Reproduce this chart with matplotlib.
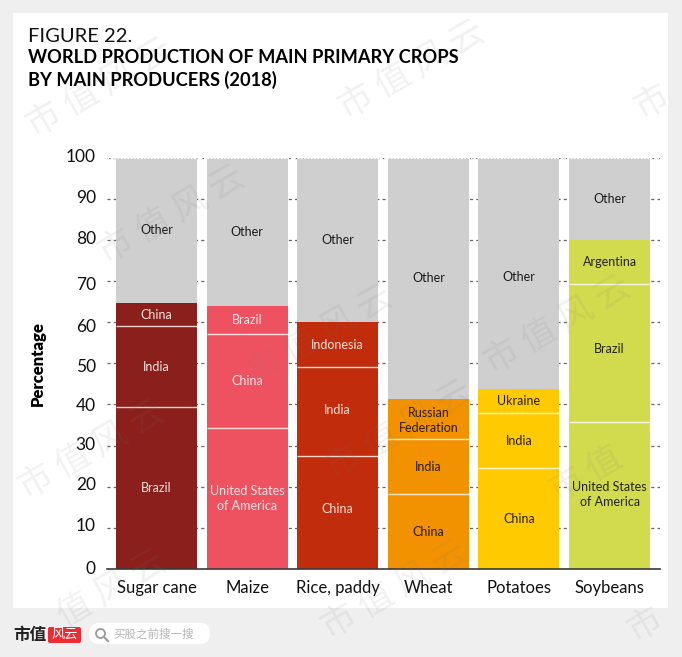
import matplotlib
matplotlib.use('Agg')
import matplotlib.pyplot as plt
from matplotlib.patches import Rectangle, FancyBboxPatch, Circle
from matplotlib.transforms import ScaledTranslation
import numpy as np

plt.rcParams['font.family'] = ['Lato', 'Noto Sans CJK SC', 'DejaVu Sans']

W, H = 682, 657

crops = ['Sugar cane', 'Maize', 'Rice, paddy', 'Wheat', 'Potatoes', 'Soybeans']
# segment heights bottom to top, the rest up to 100 is "Other"
shares = [
    [39.4, 19.6, 5.6],
    [34.3, 22.7, 7.0],
    [27.5, 21.5, 11.0],
    [18.2, 13.4, 9.7],
    [24.5, 13.4, 5.8],
    [35.7, 33.6, 10.7],
]
producers = [
    ['Brazil', 'India', 'China'],
    ['United States\nof America', 'China', 'Brazil'],
    ['China', 'India', 'Indonesia'],
    ['China', 'India', 'Russian\nFederation'],
    ['China', 'India', 'Ukraine'],
    ['United States\nof America', 'Brazil', 'Argentina'],
]
bar_colors = ['#8a1f1c', '#ee5261', '#c02c0c', '#f39200', '#ffcb00', '#d2da4e']
text_colors = ['#f6e4e0', '#fbe6e6', '#f9e2da', '#2a1a08', '#2a2006', '#23240a']
other_color = '#cfcfcf'
y_ticks = list(range(0, 101, 10))

# the labels in the original are not all dead centre, pixels up (+) / down (-)
label_shift = {(2, 0): 3, (2, 1): 2, (5, 1): 4, (5, 0): 1, (3, 2): -1}
other_shift = {4: -4}
# the y tick labels wander a bit too, pixels down, from 0 to 100
tick_shift = [-2, -3, -3, -2, 0, 2, 3, 3, -2, -2, -2]

# watermark pieces, cut short where the original runs off the picture
watermarks = [
    (100, 88, '市 值 风 云'), (172, 215, '市 值 风 云'), (412, 70, '市 值 风 云'),
    (320, 335, '市 值 风 云'), (558, 325, '市 值 风 云'), (92, 450, '市 值 风 云'),
    (400, 430, '市 值 风 云'), (586, 475, '市 值'), (395, 590, '市 值 风 云'),
    (112, 590, '值 风 云'), (652, 102, '市'), (645, 625, '市'),
]


def px_rect(x0, y0, x1, y1):
    return [x0 / W, 1 - y1 / H, (x1 - x0) / W, (y1 - y0) / H]


fig = plt.figure(figsize=(W / 100, H / 100), dpi=100, facecolor='#efefef')

# background layer in pixel coords
bg = fig.add_axes([0, 0, 1, 1], zorder=0)
bg.set_xlim(0, W)
bg.set_ylim(H, 0)
bg.axis('off')
bg.add_patch(Rectangle((13, 13), 655, 595, fc='white', ec='none'))

bg.text(28, 36, 'FIGURE 22.', fontsize=14.5, va='center', ha='left', color='#111111')
bg.text(28, 57.5, 'WORLD PRODUCTION OF MAIN PRIMARY CROPS', fontsize=13.15,
        fontweight='bold', va='center', ha='left', color='black')
bg.text(28, 80, 'BY MAIN PRODUCERS (2018)', fontsize=13.15,
        fontweight='bold', va='center', ha='left', color='black')

# chart
ax = fig.add_axes(px_rect(107, 157.5, 660, 569), zorder=1)
ax.patch.set_alpha(0)
x = np.arange(len(crops))
bar_w = 0.894
ax.set_xlim(-0.546, 5.556)
ax.set_ylim(0, 100)

for t in y_ticks[1:]:
    ax.axhline(t, color='#666666', lw=0.9, dashes=(2.5, 2.5), zorder=1)

for i, crop in enumerate(crops):
    bottom = 0
    for j, val in enumerate(shares[i]):
        ax.bar(x[i], val, bar_w, bottom=bottom, color=bar_colors[i], zorder=2)
        ax.annotate(producers[i][j], (x[i], bottom + val / 2), xytext=(0, label_shift.get((i, j), 0)),
                    textcoords='offset pixels', ha='center', va='center', fontsize=9,
                    linespacing=1.3, color=text_colors[i], zorder=4)
        bottom += val
        if j < 2:
            ax.plot([x[i] - bar_w / 2, x[i] + bar_w / 2], [bottom, bottom],
                    color='white', lw=1, alpha=0.8, solid_capstyle='butt', zorder=3)
    ax.bar(x[i], 100 - bottom, bar_w, bottom=bottom, color=other_color, zorder=2)
    ax.annotate('Other', (x[i], (bottom + 100) / 2), xytext=(0, other_shift.get(i, 0)),
                textcoords='offset pixels', ha='center', va='center', fontsize=9,
                color='#1c1c1c', zorder=4)

ax.axhline(100, color='white', lw=0.8, dashes=(1.5, 1.5), zorder=3, clip_on=False)

for s in ['top', 'right', 'left']:
    ax.spines[s].set_visible(False)
ax.spines['bottom'].set_color('#3a3a3a')
ax.spines['bottom'].set_linewidth(1.2)
ax.spines['bottom'].set_zorder(5)
ax.set_yticks(y_ticks)
ax.set_yticklabels([str(t) for t in y_ticks], fontsize=12.5, color='#111111')
ax.set_xticks(x)
ax.set_xticklabels(crops, fontsize=12, color='#111111')
ax.tick_params(axis='both', length=0)
ax.tick_params(axis='y', pad=8)
ax.tick_params(axis='x', pad=8.2)
for lab, dy in zip(ax.get_yticklabels(), tick_shift):
    lab.set_transform(lab.get_transform() + ScaledTranslation(0, -dy / 100, fig.dpi_scale_trans))
ax.set_ylabel('Percentage', fontsize=12, fontweight='heavy', color='black', labelpad=14.5)

# footer + watermark on top
top = fig.add_axes([0, 0, 1, 1], zorder=2)
top.set_xlim(0, W)
top.set_ylim(H, 0)
top.axis('off')
top.patch.set_alpha(0)

cjk = ['Noto Sans CJK SC', 'DejaVu Sans']
for cx, cy, mark in watermarks:
    top.text(cx, cy, mark, family=cjk, fontsize=25, fontweight='light', rotation=30,
             rotation_mode='anchor', ha='center', va='center', color='#777777', alpha=0.1)

top.text(13, 635, '市值', family=cjk, fontsize=12, fontweight='bold', ha='left', va='center', color='#222222')
top.add_patch(FancyBboxPatch((48, 627), 33, 16, boxstyle='round,pad=0,rounding_size=2', fc='#ee2b33', ec='none'))
top.text(64.5, 634.5, '风云', family=cjk, fontsize=9.5, style='italic', ha='center', va='center', color='white')
top.add_patch(FancyBboxPatch((89, 623), 121, 21, boxstyle='round,pad=0,rounding_size=10', fc='white', ec='none'))
top.add_patch(Circle((100.5, 633.5), 4.5, fc='none', ec='#999999', lw=1.3))
top.plot([104, 108], [637, 641], color='#999999', lw=1.5)
top.text(113, 634, '买股之前搜一搜', family=cjk, fontsize=8.3, ha='left', va='center', color='#b5b5b5')

fig.savefig('out.png', dpi=100, facecolor=fig.get_facecolor())
plt.close(fig)
